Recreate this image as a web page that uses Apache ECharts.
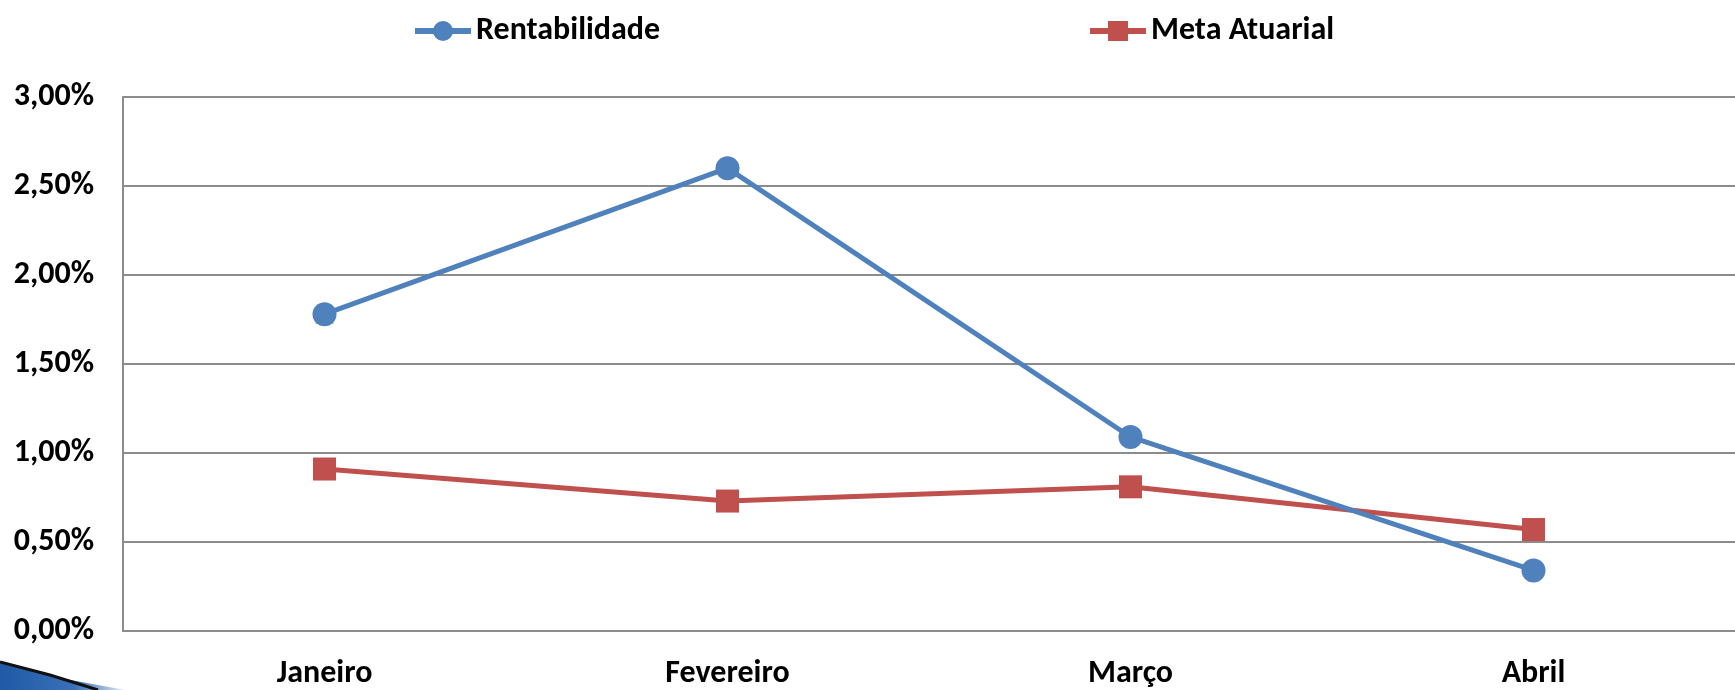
<!DOCTYPE html>
<html>
<head>
<meta charset="utf-8">
<script src="https://cdn.jsdelivr.net/npm/echarts@6/dist/echarts.min.js"></script>
<style>
html,body{margin:0;padding:0;background:#fff;}
#c{width:1735px;height:690px;}
</style>
</head>
<body>
<div id="c"></div>
<script>
var categories = ['Janeiro', 'Fevereiro', 'Março', 'Abril'];
var rentabilidade = [1.78, 2.60, 1.09, 0.34];
var metaAtuarial = [0.91, 0.73, 0.81, 0.57];
var hiddenSeries = [1.78, null, null, null];

var FONT = 'Carlito, Lato, "Open Sans", sans-serif';
var FS = 32;
var chart = echarts.init(document.getElementById('c'));
chart.setOption({
  backgroundColor: '#ffffff',
  animation: false,
  graphic: [
    {
      type: 'polygon',
      z: 0,
      shape: { points: [[0, 663], [60, 678], [125, 690], [0, 690]] },
      style: {
        fill: new echarts.graphic.LinearGradient(0, 0, 1, 0, [
          { offset: 0, color: '#1f5aa6' },
          { offset: 0.6, color: '#3a70b8' },
          { offset: 1, color: '#dfe8f3' }
        ])
      }
    },
    {
      type: 'polyline',
      z: 1,
      shape: { points: [[0, 662], [50, 675], [98, 690]] },
      style: { stroke: '#111', lineWidth: 3, fill: null }
    }
  ],
  legend: [
    {
      data: ['Rentabilidade'],
      left: 407, top: 10,
      itemWidth: 56, itemHeight: 25, itemGap: 4,
      lineStyle: { width: 6 },
      textStyle: { fontFamily: FONT, fontWeight: 'bold', fontSize: FS, color: '#000' }
    },
    {
      data: ['Meta Atuarial'],
      left: 1082, top: 10,
      itemWidth: 56, itemHeight: 25, itemGap: 4,
      lineStyle: { width: 6 },
      textStyle: { fontFamily: FONT, fontWeight: 'bold', fontSize: FS, color: '#000' }
    }
  ],
  grid: { left: 123, top: 97, width: 1620, bottom: 55, containLabel: false },
  xAxis: {
    type: 'category',
    data: categories,
    boundaryGap: true,
    axisLine: { show: true, lineStyle: { color: '#8c8c8c', width: 2 } },
    axisTick: { show: false },
    axisLabel: { fontFamily: FONT, fontWeight: 'bold', fontSize: FS, color: '#000', margin: 27 }
  },
  yAxis: {
    type: 'value',
    min: 0, max: 3, interval: 0.5,
    axisLine: { show: true, lineStyle: { color: '#8c8c8c', width: 2 } },
    axisTick: { show: false },
    splitLine: { show: true, lineStyle: { color: '#8c8c8c', width: 2 } },
    axisLabel: {
      fontFamily: FONT, fontWeight: 'bold', fontSize: FS, color: '#000', margin: 29,
      formatter: function (v) { return v.toFixed(2).replace('.', ',') + '%'; }
    }
  },
  series: [
    {
      name: 'hidden',
      type: 'line',
      data: hiddenSeries,
      symbol: 'triangle',
      symbolSize: 19,
      z: 1,
      itemStyle: { color: '#9bbb59' },
      lineStyle: { color: '#9bbb59', width: 5 }
    },
    {
      name: 'Rentabilidade',
      type: 'line',
      data: rentabilidade,
      symbol: 'circle',
      symbolSize: 24,
      z: 3,
      itemStyle: { color: '#4f81bd' },
      lineStyle: { color: '#4f81bd', width: 5 }
    },
    {
      name: 'Meta Atuarial',
      type: 'line',
      data: metaAtuarial,
      symbol: 'rect',
      symbolSize: 23,
      z: 2,
      itemStyle: { color: '#c0504d' },
      lineStyle: { color: '#c0504d', width: 5 }
    }
  ]
});
</script>
</body>
</html>
